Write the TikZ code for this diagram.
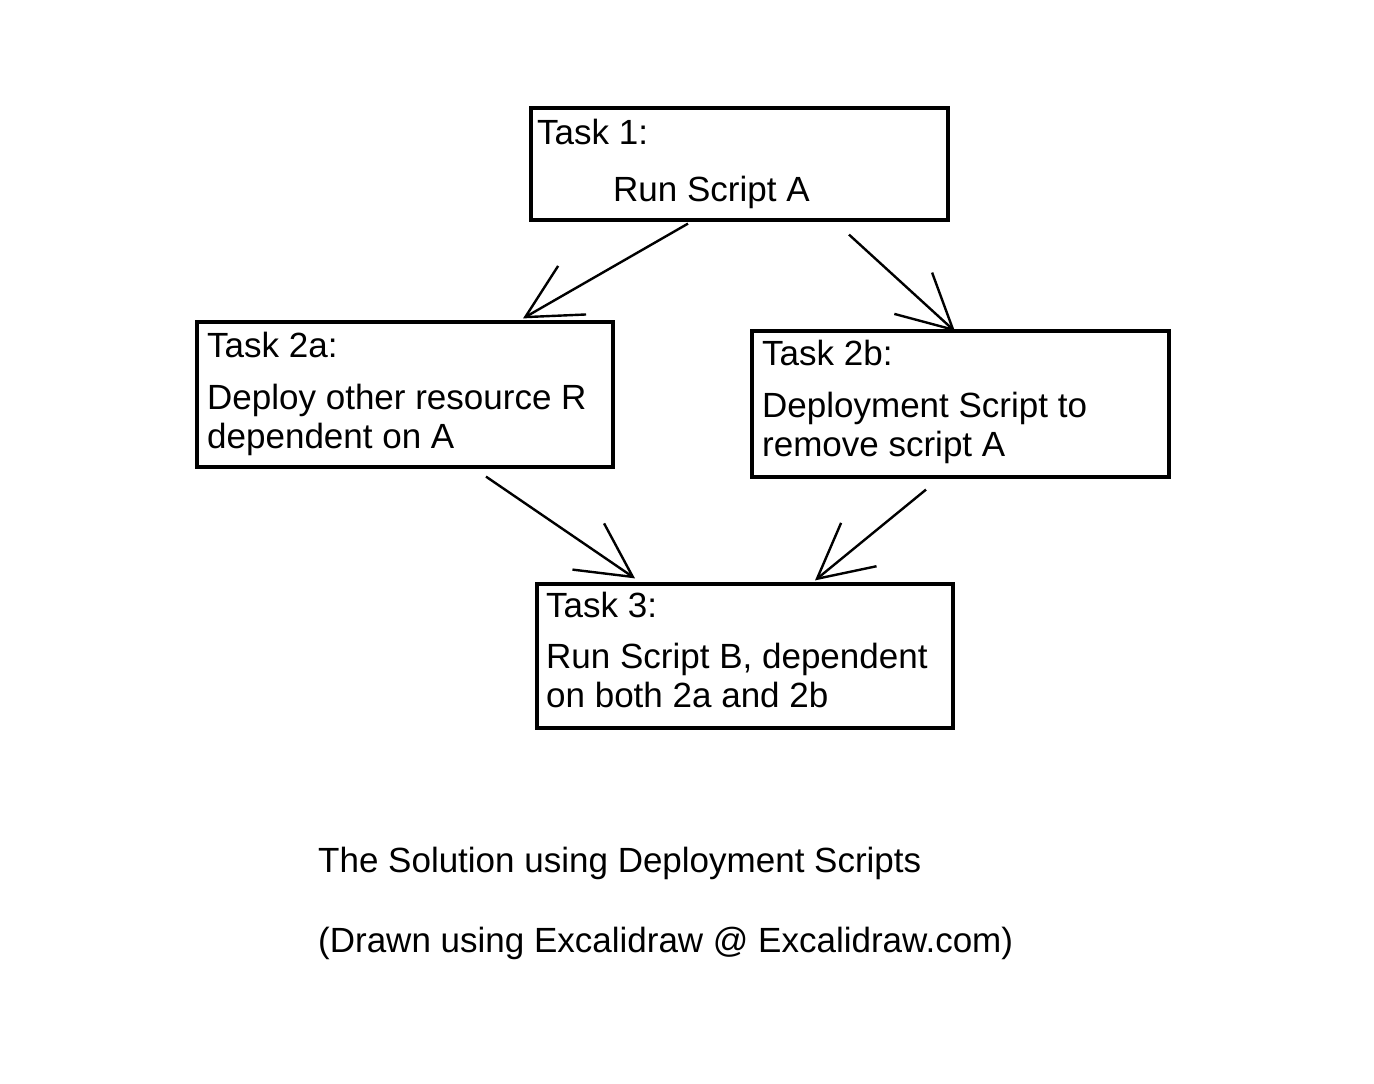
\documentclass[tikz,border=0pt]{standalone}
\usepackage{fontspec}
\setmainfont{Liberation Sans}
\usetikzlibrary{arrows.meta}

\tikzset{
  taskbox/.style={draw, line width=3.2pt, rectangle, inner sep=0pt},
  arr/.style={draw, line width=2.4pt, -{Straight Barb[length=54pt,width=56pt,line width=2.4pt]}},
}

\begin{document}
\begin{tikzpicture}[x=1pt, y=-1pt, font=\fontsize{35}{40}\selectfont]
      \useasboundingbox (0,0) rectangle (1374,1084);

      \begin{scope}[every node/.style={taskbox}]
        \node[minimum width=417pt, minimum height=112pt] (t1)  at (739.5,164) {};
        \node[minimum width=416pt, minimum height=145pt] (t2a) at (405,394.5) {};
        \node[minimum width=417pt, minimum height=146pt] (t2b) at (960.5,404) {};
        \node[minimum width=416pt, minimum height=144pt] (t3)  at (745,656) {};
      \end{scope}

      \begin{scope}[every node/.style={anchor=base west, inner sep=0pt}]
        \node (t1title) at (537,144) {Task 1:};
        \node (t1text)  at (613,201) {Run Script A};

        \node (t2atitle) at (207,357) {Task 2a:};
        \node (t2atext)  at (207,409) {Deploy other resource R};
        \node (t2atext2) at (207,448) {dependent on A};

        \node (t2btitle) at (762,365) {Task 2b:};
        \node (t2btext)  at (762,417) {Deployment Script to};
        \node (t2btext2) at (762,456) {remove script A};

        \node (t3title) at (546,617) {Task 3:};
        \node (t3text)  at (546,668) {Run Script B, dependent};
        \node (t3text2) at (546,707) {on both 2a and 2b};

        \node (caption)  at (318,872) {The Solution using Deployment Scripts};
        \node (caption2) at (318,952) {(Drawn using Excalidraw @ Excalidraw.com)};
      \end{scope}

      \path ([xshift=-51.5pt,yshift=-2pt]t1.south)  edge[arr] ([xshift=118pt,yshift=2pt]t2a.north);
      \path ([xshift=109.5pt,yshift=-13pt]t1.south) edge[arr] ([xshift=-5.5pt,yshift=-2pt]t2b.north);
      \path ([xshift=81pt,yshift=-8pt]t2a.south)    edge[arr] ([xshift=-110pt,yshift=4pt]t3.north);
      \path ([xshift=-34.5pt,yshift=-11pt]t2b.south) edge[arr] ([xshift=70pt,yshift=2pt]t3.north);

    \end{tikzpicture}
\end{document}
